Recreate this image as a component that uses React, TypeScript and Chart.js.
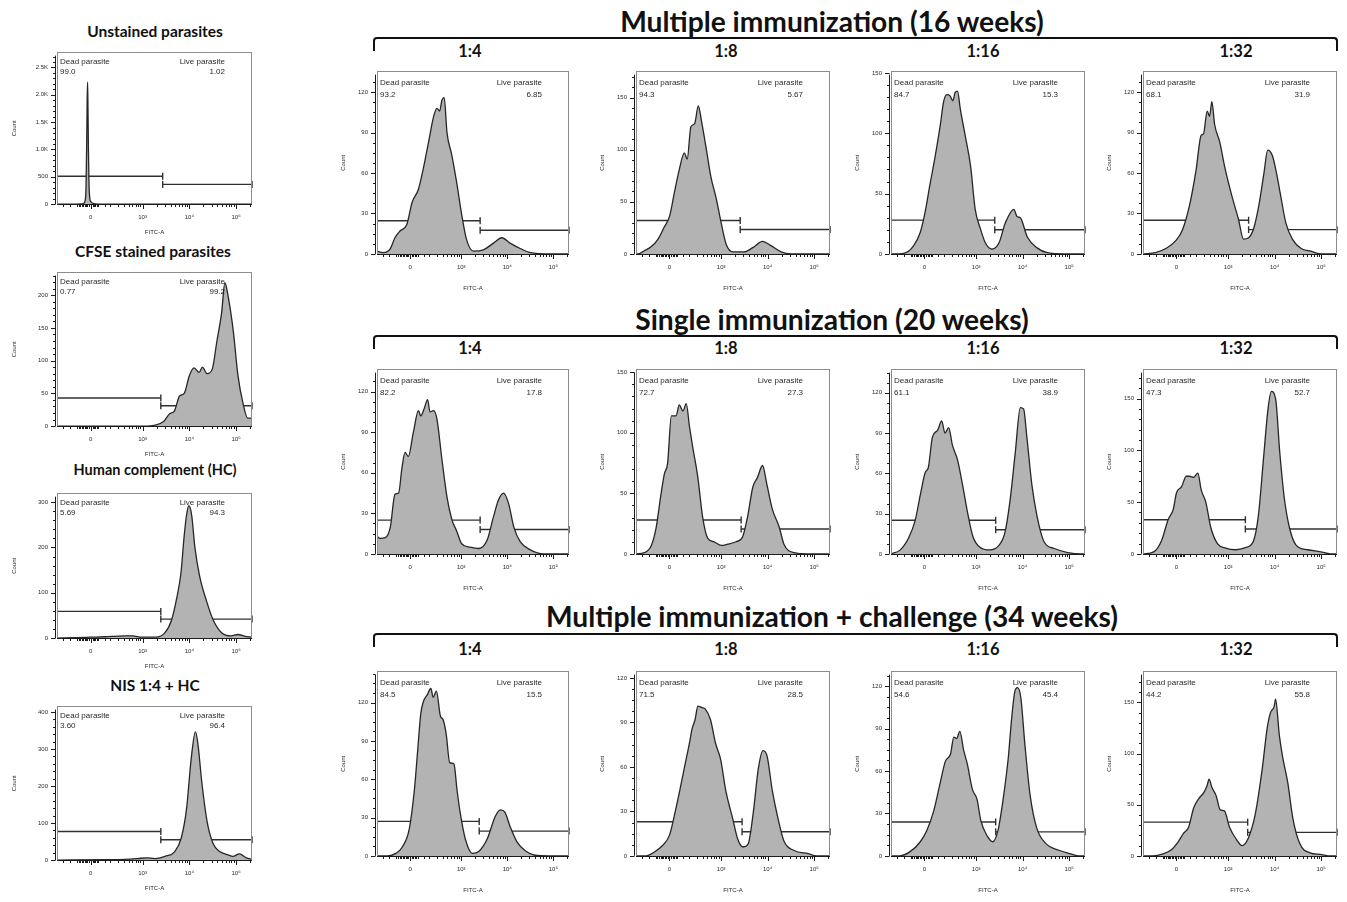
import React, { useEffect, useRef } from 'react';
import { Chart, registerables } from 'chart.js';

Chart.register(...registerables);

const FONT = '"Liberation Sans", Arial, Helvetica, sans-serif';
const HEAD_FONT = 'Lato, "Open Sans", sans-serif';

// ---- FITC-A display axis (biexponential-like display units) ----
const X_MIN = -0.72;
const X_MAX = 3.45;
const X_MAJOR = [0, 1.11, 2.11, 3.11];
const X_LABELS = ['0', '10³', '10⁴', '10⁵'];
const X_MINOR = [
  -0.6, -0.45, -0.3, -0.26, -0.22, -0.19, -0.16, -0.13, -0.1, -0.07, -0.04, 0.04, 0.07, 0.1, 0.13, 0.16,
  0.3, 0.41, 0.59, 0.71, 0.81, 0.89, 0.96, 1.01, 1.06,
  1.41, 1.59, 1.71, 1.81, 1.89, 1.96, 2.01, 2.06,
  2.41, 2.59, 2.71, 2.81, 2.89, 2.96, 3.01, 3.06, 3.41,
];

// ---- histogram data: [FITC-A display value, count] ----
const unstained = [[-0.72,0],[-0.3,0],[-0.2,3],[-0.15,15],[-0.12,60],[-0.1,300],[-0.085,1100],[-0.075,1900],[-0.066,2230],[-0.058,1800],[-0.048,1000],[-0.035,350],[-0.02,120],[0,50],[0.05,15],[0.1,4],[0.2,0],[3.45,0]];
const cfse = [[-0.72,0],[1.2,0],[1.35,1],[1.56,7],[1.69,19],[1.79,23],[1.9,46],[2.0,50],[2.11,77],[2.21,89],[2.32,82],[2.39,90],[2.49,80],[2.6,87],[2.7,130],[2.8,173],[2.87,219],[2.94,198],[3.05,145],[3.15,77],[3.26,34],[3.36,12],[3.45,12]];
const humanComplement = [[-0.72,0],[-0.3,1],[0,2],[0.3,3],[0.74,5],[0.9,5],[1.1,2],[1.39,2],[1.59,12],[1.73,40],[1.84,88],[1.93,143],[2.0,226],[2.05,271],[2.1,292],[2.16,271],[2.23,199],[2.33,137],[2.48,81],[2.62,40],[2.8,12],[3.0,5],[3.15,8],[3.3,4],[3.45,2]];
const nisHC = [[-0.72,0],[0.3,1],[0.74,2],[1.0,4],[1.2,6],[1.37,4],[1.59,10],[1.8,23],[1.94,61],[2.05,138],[2.15,274],[2.24,346],[2.29,317],[2.38,206],[2.49,104],[2.62,44],[2.76,23],[2.94,14],[3.04,10],[3.18,17],[3.33,6],[3.45,2]];

const multi16_4 = [[-0.72,2],[-0.58,1],[-0.43,4],[-0.33,12],[-0.22,17],[-0.07,22],[0.04,38],[0.18,48],[0.29,64],[0.4,83],[0.51,102],[0.58,108],[0.64,106],[0.69,114],[0.74,116],[0.8,90],[0.9,74],[1.01,53],[1.12,29],[1.23,10],[1.38,2],[1.59,3],[1.81,8],[1.99,12],[2.17,8],[2.39,4],[2.61,1],[3.04,0],[3.45,0]];
const multi16_8 = [[-0.72,0],[-0.68,0],[-0.54,3],[-0.39,7],[-0.25,14],[-0.11,26],[0,36],[0.11,60],[0.21,81],[0.32,97],[0.38,91],[0.46,122],[0.54,125],[0.62,142],[0.69,127],[0.79,101],[0.89,74],[1.0,54],[1.11,30],[1.22,9],[1.36,2],[1.61,2],[1.79,6],[2.0,12],[2.18,8],[2.4,2],[2.61,0],[3.45,0]];
const multi16_16 = [[-0.72,0],[-0.45,0.5],[-0.24,6.5],[-0.09,18],[0.01,34],[0.12,58],[0.23,81],[0.34,107],[0.41,126],[0.48,132],[0.55,131],[0.61,127],[0.66,134],[0.71,135],[0.77,120],[0.88,97],[0.99,73],[1.09,37],[1.2,21],[1.31,9],[1.45,4],[1.6,9],[1.74,26],[1.92,37],[1.99,31],[2.06,30],[2.21,14],[2.42,5],[2.64,1],[3.0,0],[3.45,0]];
const multi16_32 = [[-0.72,0],[-0.45,1],[-0.23,4],[-0.01,10],[0.13,18],[0.28,36],[0.42,62],[0.53,88],[0.58,89],[0.66,106],[0.71,102],[0.76,113],[0.82,96],[0.93,83],[1.04,64],[1.19,43],[1.33,26],[1.44,11],[1.55,12],[1.66,19],[1.77,36],[1.88,60],[1.96,77],[2.06,73],[2.15,60],[2.24,43],[2.35,23],[2.49,11],[2.68,4],[2.89,2],[3.11,0],[3.45,0]];

const single20_4 = [[-0.72,13],[-0.65,11.5],[-0.54,12],[-0.43,20],[-0.33,44],[-0.25,45],[-0.18,63],[-0.11,75],[-0.04,72],[0.07,90],[0.18,106],[0.23,102],[0.3,107],[0.38,114],[0.43,105],[0.51,106],[0.58,100],[0.69,70],[0.8,42],[0.91,25],[1.01,17],[1.12,7.5],[1.3,5],[1.49,4],[1.67,10],[1.81,27.5],[1.92,40],[2.03,45],[2.14,37],[2.25,20],[2.39,9],[2.61,3],[2.9,0],[3.45,0]];
const single20_8 = [[-0.72,0],[-0.54,1],[-0.39,7],[-0.29,21],[-0.18,50],[-0.11,66],[-0.04,75],[0.04,114],[0.14,114],[0.21,123],[0.29,118],[0.36,124],[0.43,105],[0.5,88],[0.61,63],[0.71,31],[0.82,13],[0.96,10],[1.11,7],[1.25,8],[1.43,10],[1.57,14],[1.68,31],[1.79,55],[1.89,63],[2.0,73],[2.09,58],[2.21,37],[2.36,22],[2.46,8],[2.68,1],[2.96,0],[3.45,0]];
const single20_16 = [[-0.72,0],[-0.52,3],[-0.34,12],[-0.2,25],[-0.09,44],[0.02,61],[0.08,64],[0.17,87],[0.28,92],[0.37,99],[0.44,90],[0.52,94],[0.6,81],[0.71,70],[0.82,51],[0.93,30],[1.04,13],[1.19,5],[1.4,3],[1.59,6],[1.73,16],[1.84,40],[1.95,75],[2.06,109],[2.13,108],[2.2,87],[2.31,51],[2.42,28],[2.57,9],[2.79,4],[3.08,1],[3.37,0],[3.45,0]];
const single20_32 = [[-0.72,0],[-0.49,2],[-0.32,13],[-0.18,33],[-0.07,43],[0,59],[0.11,65],[0.21,75],[0.28,75],[0.37,74],[0.46,78],[0.53,62],[0.63,50],[0.74,25],[0.88,10],[1.06,5.5],[1.27,4],[1.48,6],[1.65,12],[1.76,37],[1.87,92],[1.97,141],[2.04,157],[2.13,150],[2.22,98],[2.32,53],[2.43,25],[2.57,8.5],[2.82,4],[3.1,2],[3.31,0],[3.45,0]];

const challenge34_4 = [[-0.72,0],[-0.49,0],[-0.31,2],[-0.17,7],[-0.02,21],[0.09,51],[0.16,81],[0.23,111],[0.29,121],[0.37,126],[0.45,131],[0.5,124],[0.57,129],[0.66,109],[0.71,107],[0.78,96],[0.86,73],[0.95,72],[1.02,51],[1.09,33],[1.2,13],[1.35,2],[1.49,3.5],[1.67,13],[1.85,31],[1.96,36],[2.06,34],[2.17,23],[2.32,11],[2.5,4],[2.71,0.5],[3.0,0],[3.45,0]];
const challenge34_8 = [[-0.72,0],[-0.51,0],[-0.33,2.5],[-0.15,7],[0,14],[0.11,28],[0.22,44],[0.33,61],[0.44,78],[0.48,85],[0.55,92],[0.61,101],[0.7,100],[0.77,99],[0.88,92],[0.99,76],[1.1,65],[1.21,44],[1.36,25],[1.47,11],[1.58,6],[1.69,8],[1.8,29],[1.91,59],[2.01,71],[2.1,67],[2.21,44],[2.32,27],[2.46,10],[2.68,3.6],[2.98,1.5],[3.16,0],[3.45,0]];
const challenge34_16 = [[-0.72,0],[-0.53,0],[-0.31,3],[-0.09,10],[0.05,18],[0.2,32],[0.34,52],[0.45,67],[0.56,72],[0.63,84],[0.69,83],[0.76,88],[0.84,75],[0.92,65],[1.03,47],[1.13,40],[1.21,25],[1.35,14],[1.47,10],[1.58,18],[1.69,40],[1.8,69],[1.87,96],[1.94,116],[2.0,119],[2.07,112],[2.16,78],[2.27,43],[2.41,20],[2.6,9],[2.89,4],[3.14,1.5],[3.32,0],[3.45,0]];
const challenge34_32 = [[-0.72,0],[-0.51,0],[-0.29,2],[-0.11,6],[0.04,14],[0.15,22],[0.26,28],[0.37,47],[0.48,56],[0.59,62],[0.66,69],[0.7,75],[0.76,67],[0.85,59],[0.94,45],[1.03,44],[1.14,28],[1.29,16],[1.41,10],[1.54,17],[1.69,40],[1.84,84],[1.95,125],[2.02,140],[2.1,146],[2.13,153],[2.21,118],[2.28,97],[2.39,72],[2.5,37],[2.65,12],[2.87,3],[3.09,1.5],[3.31,0],[3.45,0]];

// ---- labels, percentages, gates, axis ranges ----
const SIDE_TITLES = ['Unstained parasites', 'CFSE stained parasites', 'Human complement (HC)', 'NIS 1:4 + HC'];
const SIDE_DATA = [unstained, cfse, humanComplement, nisHC];
const SIDE_DEAD = ['99.0', '0.77', '5.69', '3.60'];
const SIDE_LIVE = ['1.02', '99.2', '94.3', '96.4'];
const SIDE_GATE_Y = [[509, 360], [43, 31], [59, 42], [77, 55]];
const SIDE_GATE_X = [1.54, 1.5, 1.5, 1.5];
const SIDE_YMAX = [2790, 236, 321, 417];
const SIDE_YSTEP = [500, 50, 100, 100];

const GROUPS = ['Multiple immunization (16 weeks)', 'Single immunization (20 weeks)', 'Multiple immunization + challenge (34 weeks)'];
const DILUTIONS = ['1:4', '1:8', '1:16', '1:32'];
const MAIN_DATA = [
  [multi16_4, multi16_8, multi16_16, multi16_32],
  [single20_4, single20_8, single20_16, single20_32],
  [challenge34_4, challenge34_8, challenge34_16, challenge34_32],
];
const MAIN_DEAD = [['93.2', '94.3', '84.7', '68.1'], ['82.2', '72.7', '61.1', '47.3'], ['84.5', '71.5', '54.6', '44.2']];
const MAIN_LIVE = [['6.85', '5.67', '15.3', '31.9'], ['17.8', '27.3', '38.9', '52.7'], ['15.5', '28.5', '45.4', '55.8']];
const MAIN_GATE_Y = [
  [[24.6, 17.5], [32, 23.5], [28, 20], [25, 18]],
  [[25, 18], [28, 20.5], [25, 18], [33, 24]],
  [[27, 19.4], [23, 16.3], [24, 17], [33, 23]],
];
const MAIN_GATE_X = [[1.52, 1.52, 1.51, 1.55], [1.52, 1.54, 1.53, 1.48], [1.5, 1.56, 1.53, 1.53]];
const MAIN_YMAX = [[136, 176, 152, 136], [137, 153, 138, 179], [145, 125, 131, 181]];
const MAIN_YSTEP = [[30, 50, 50, 30], [30, 50, 30, 50], [30, 30, 30, 50]];

// ---- layout ----
const SIDE_BOX_X = [57, 252];
const SIDE_BOX_Y = [[43, 205], [263, 427], [484, 639], [697, 861]];
const SIDE_TITLE_POS = [[155, 32], [153, 252], [155, 470], [155, 686]];
const SIDE_TITLE_SIZE = [15.5, 15.5, 14.5, 15.5];
const MAIN_COLS = [[377, 569], [636, 830], [891, 1085], [1143, 1337]];
const MAIN_ROWS = [[62, 255], [360, 555], [662, 857]];
const GROUP_Y = [21, 319, 616];
const BRACKET_Y = [37, 335, 633];
const DIL_Y = [51, 348, 649];
const DIL_X = [470, 726, 983, 1236];

const PAD_L = 46, PAD_R = 6, PAD_T = 4, PAD_B = 40;
const FILL = '#b3b3b3';
const LINE = '#262626';
const GATE = '#303030';
const TXT = '#2a2a2a';

type PanelSpec = {
  data: number[][];
  box: [number, number, number, number];
  dead: string;
  live: string;
  gateY: number[];
  gateX: number;
  yMax: number;
  yStep: number;
  side: boolean;
};

function fmtY(v: number): string {
  if (v >= 1000) return (v / 1000).toFixed(1) + 'K';
  return String(v);
}

function Hist({ p }: { p: PanelSpec }) {
  const ref = useRef<HTMLCanvasElement | null>(null);
  const [l, t, r, b] = p.box;
  const W = r - l + PAD_L + PAD_R;
  const H = b - t + PAD_T + PAD_B;

  useEffect(() => {
    if (!ref.current) return;
    const majors: number[] = [];
    for (let v = 0; v <= p.yMax + 0.001; v += p.yStep) majors.push(v);
    const minorDiv = p.yStep === 30 ? 4 : 5;
    const minors: number[] = [];
    for (let v = 0; v <= p.yMax; v += p.yStep / minorDiv) {
      if (Math.abs(v / p.yStep - Math.round(v / p.yStep)) > 1e-6) minors.push(v);
    }
    const yMin = -p.yMax * 0.006;

    const deco = {
      id: 'fcsDeco',
      afterDraw(chart: any) {
        const { ctx, chartArea: a } = chart;
        const xs = chart.scales.x;
        const ys = chart.scales.y;
        ctx.save();
        // frame
        ctx.strokeStyle = '#8c8c8c';
        ctx.lineWidth = 1;
        ctx.strokeRect(Math.round(a.left) + 0.5, Math.round(a.top) + 0.5, Math.round(a.right - a.left) - 1, Math.round(a.bottom - a.top) - 1);
        // y axis
        ctx.strokeStyle = '#1c1c1c';
        const ax = Math.round(a.left) - 1.5;
        const y0 = ys.getPixelForValue(0);
        ctx.beginPath();
        ctx.moveTo(ax, y0);
        ctx.lineTo(ax, a.top + 4);
        for (const v of majors) {
          const py = Math.round(ys.getPixelForValue(v)) + 0.5;
          ctx.moveTo(ax - 4.5, py);
          ctx.lineTo(ax, py);
        }
        for (const v of minors) {
          const py = Math.round(ys.getPixelForValue(v)) + 0.5;
          if (py < a.top + 3) continue;
          ctx.moveTo(ax - 2.5, py);
          ctx.lineTo(ax, py);
        }
        ctx.stroke();
        // x axis
        const by = Math.round(a.bottom) - 0.5;
        ctx.beginPath();
        ctx.moveTo(a.left, by);
        ctx.lineTo(a.right, by);
        for (const u of X_MAJOR) {
          const px = Math.round(xs.getPixelForValue(u)) + 0.5;
          ctx.moveTo(px, by);
          ctx.lineTo(px, by + 4.5);
        }
        for (const u of X_MINOR) {
          const px = Math.round(xs.getPixelForValue(u)) + 0.5;
          ctx.moveTo(px, by);
          ctx.lineTo(px, by + 2.5);
        }
        ctx.stroke();
        // gate annotations
        const d1 = p.side ? 10.6 : 12;
        const d2 = p.side ? 20.6 : 23.7;
        ctx.fillStyle = TXT;
        ctx.font = '8px ' + FONT;
        ctx.textBaseline = 'middle';
        ctx.textAlign = 'left';
        ctx.fillText('Dead parasite', a.left + 3, a.top + d1);
        ctx.fillText(p.dead, a.left + 3, a.top + d2);
        ctx.textAlign = 'right';
        ctx.fillText('Live parasite', a.right - 27, a.top + d1);
        ctx.fillText(p.live, a.right - 27, a.top + d2);
        ctx.restore();
      },
    };

    const tickFont = { family: FONT, size: 6 };
    const chart = new Chart(ref.current, {
      type: 'line',
      data: {
        datasets: [
          {
            data: p.data.map(([x, y]) => ({ x, y })),
            fill: 'start',
            backgroundColor: FILL,
            borderColor: LINE,
            borderWidth: 1.3,
            pointRadius: 0,
            cubicInterpolationMode: 'monotone',
          },
          {
            data: [{ x: X_MIN, y: p.gateY[0] }, { x: p.gateX, y: p.gateY[0] }],
            borderColor: GATE,
            borderWidth: 1.4,
            fill: false,
            pointStyle: 'line',
            pointRotation: 90,
            pointRadius: [0, 3.5],
            pointBorderWidth: 1.4,
            pointBorderColor: GATE,
            clip: false,
          },
          {
            data: [{ x: p.gateX, y: p.gateY[1] }, { x: X_MAX, y: p.gateY[1] }],
            borderColor: GATE,
            borderWidth: 1.4,
            fill: false,
            pointStyle: 'line',
            pointRotation: 90,
            pointRadius: [3.5, 3.5],
            pointBorderWidth: 1.4,
            pointBorderColor: GATE,
            clip: false,
          },
        ],
      } as any,
      options: {
        responsive: false,
        animation: false,
        devicePixelRatio: 1,
        events: [],
        layout: { padding: { top: PAD_T, right: PAD_R, left: 0, bottom: 0 } },
        plugins: { legend: { display: false }, tooltip: { enabled: false } },
        scales: {
          x: {
            type: 'linear',
            min: X_MIN,
            max: X_MAX,
            afterBuildTicks: (s: any) => {
              s.ticks = X_MAJOR.map((v) => ({ value: v }));
            },
            ticks: {
              callback: (_v: any, i: number) => X_LABELS[i],
              font: tickFont,
              color: TXT,
              padding: 8.5,
              maxRotation: 0,
              autoSkip: false,
            },
            grid: { display: false, drawTicks: false },
            border: { display: false },
            title: {
              display: true,
              text: 'FITC-A',
              font: tickFont,
              color: TXT,
              padding: { top: 0, bottom: p.side ? 9.4 : 3.4 },
            },
            afterFit: (s: any) => {
              s.height = PAD_B;
            },
          },
          y: {
            type: 'linear',
            min: yMin,
            max: p.yMax,
            afterBuildTicks: (s: any) => {
              s.ticks = majors.map((v) => ({ value: v }));
            },
            ticks: {
              callback: (_v: any, i: number) => fmtY(majors[i]),
              font: tickFont,
              color: TXT,
              padding: 9,
              autoSkip: false,
            },
            grid: { display: false, drawTicks: false },
            border: { display: false },
            title: {
              display: true,
              text: 'Count',
              font: tickFont,
              color: TXT,
              padding: { top: p.side ? 0 : 8.4, bottom: 0 },
            },
            afterFit: (s: any) => {
              s.width = PAD_L;
            },
          },
        },
      } as any,
      plugins: [deco],
    });
    return () => chart.destroy();
  }, []);

  return (
    <canvas
      ref={ref}
      width={W}
      height={H}
      style={{ position: 'absolute', left: l - PAD_L, top: t - PAD_T, width: W, height: H }}
    />
  );
}

function Label({ x, y, text, size }: { x: number; y: number; text: string; size: number }) {
  return (
    <div
      style={{
        position: 'absolute',
        left: x,
        top: y,
        transform: 'translate(-50%, -50%)',
        whiteSpace: 'nowrap',
        fontFamily: HEAD_FONT,
        fontWeight: 700,
        fontSize: size,
        lineHeight: 1,
        color: '#111',
      }}
    >
      {text}
    </div>
  );
}

export default function App() {
  const panels: { key: string; spec: PanelSpec }[] = [];
  SIDE_DATA.forEach((d, i) => {
    panels.push({
      key: 'side' + i,
      spec: {
        data: d,
        box: [SIDE_BOX_X[0], SIDE_BOX_Y[i][0], SIDE_BOX_X[1], SIDE_BOX_Y[i][1]],
        dead: SIDE_DEAD[i],
        live: SIDE_LIVE[i],
        gateY: SIDE_GATE_Y[i],
        gateX: SIDE_GATE_X[i],
        yMax: SIDE_YMAX[i],
        yStep: SIDE_YSTEP[i],
        side: true,
      },
    });
  });
  MAIN_DATA.forEach((row, ri) => {
    row.forEach((d, ci) => {
      panels.push({
        key: 'main' + ri + '_' + ci,
        spec: {
          data: d,
          box: [MAIN_COLS[ci][0], MAIN_ROWS[ri][0], MAIN_COLS[ci][1], MAIN_ROWS[ri][1]],
          dead: MAIN_DEAD[ri][ci],
          live: MAIN_LIVE[ri][ci],
          gateY: MAIN_GATE_Y[ri][ci],
          gateX: MAIN_GATE_X[ri][ci],
          yMax: MAIN_YMAX[ri][ci],
          yStep: MAIN_YSTEP[ri][ci],
          side: false,
        },
      });
    });
  });

  return (
    <div style={{ position: 'absolute', left: 0, top: 0, width: 1347, height: 902, overflow: 'hidden', background: '#fff' }}>
      {SIDE_TITLES.map((t, i) => (
        <Label key={'st' + i} x={SIDE_TITLE_POS[i][0]} y={SIDE_TITLE_POS[i][1]} text={t} size={SIDE_TITLE_SIZE[i]} />
      ))}
      {GROUPS.map((g, i) => (
        <React.Fragment key={'g' + i}>
          <Label x={832} y={GROUP_Y[i]} text={g} size={28.2} />
          <div
            style={{
              position: 'absolute',
              left: 373,
              top: BRACKET_Y[i],
              width: 1338 - 373,
              height: 14,
              boxSizing: 'border-box',
              borderTop: '2.5px solid #111',
              borderLeft: '2.5px solid #111',
              borderRight: '2.5px solid #111',
              borderRadius: '4px 4px 0 0',
            }}
          />
          {DILUTIONS.map((d, j) => (
            <Label key={'d' + j} x={DIL_X[j]} y={DIL_Y[i]} text={d} size={16.5} />
          ))}
        </React.Fragment>
      ))}
      {panels.map((p) => (
        <Hist key={p.key} p={p.spec} />
      ))}
    </div>
  );
}
